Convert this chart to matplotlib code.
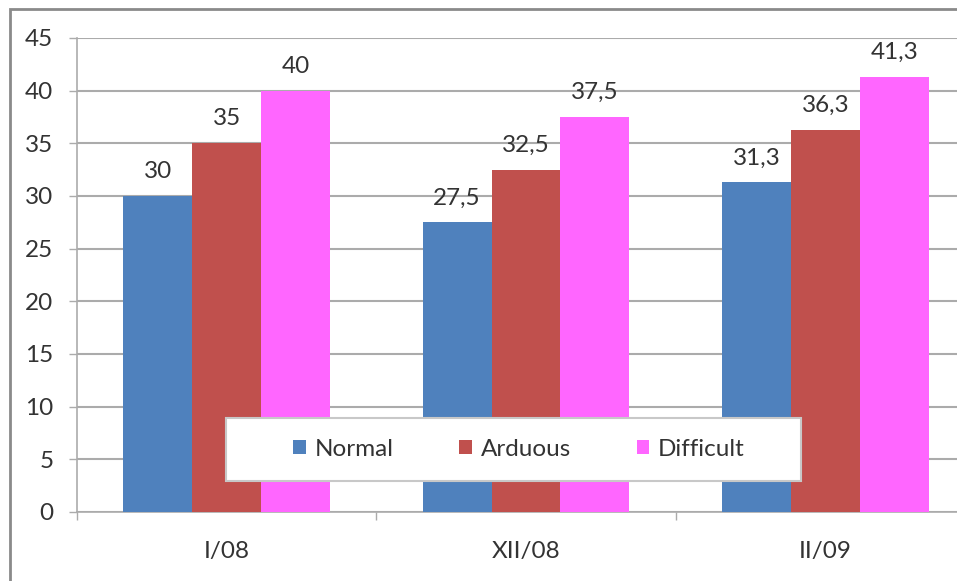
import numpy as np
import matplotlib.pyplot as plt
from matplotlib.patches import Rectangle

periods = ['I/08', 'XII/08', 'II/09']
series = ['Normal', 'Arduous', 'Difficult']
normal = [30, 27.5, 31.3]
arduous = [35, 32.5, 36.3]
difficult = [40, 37.5, 41.3]
colors = ['#4F81BD', '#C0504D', '#FF66FF']

plt.rcParams['font.family'] = ['Lato', 'DejaVu Sans']
text_color = '#333333'
grid_color = '#ababab'
fs = 17.5

W, H = 957, 581
fig = plt.figure(figsize=(W / 100, H / 100), dpi=100)
fig.patch.set_facecolor('white')

# plot area is wider than the canvas: the right edge is cut off
ax = fig.add_axes([77 / W, 69 / H, 898 / W, 474 / H])

x = np.arange(len(periods))
width = 0.23
for i, (name, vals) in enumerate(zip(series, [normal, arduous, difficult])):
    bars = ax.bar(x + (i - 1) * width, vals, width, color=colors[i], label=name, zorder=3)
    for b, v in zip(bars, vals):
        ax.annotate(f'{v:g}'.replace('.', ','), (b.get_x() + b.get_width() / 2, v),
                    xytext=(0, 10), textcoords='offset points', ha='center', va='bottom',
                    fontsize=fs, color=text_color)

ax.set_xlim(-0.5, 2.5)
ax.set_ylim(0, 45)
ax.set_yticks(range(0, 46, 5))
ax.set_xticks(x)
ax.set_xticklabels(periods)
ax.set_xticks([-0.5, 0.5, 1.5], minor=True)
ax.tick_params(axis='x', which='major', length=0, pad=21, labelsize=fs, labelcolor=text_color)
ax.tick_params(axis='x', which='minor', length=6, width=1, color=grid_color)
ax.tick_params(axis='y', length=6, width=1, color=grid_color, pad=11, labelsize=fs,
               labelcolor=text_color)

ax.yaxis.grid(True, color=grid_color, linewidth=1.5, zorder=0)
ax.set_axisbelow(True)
for s in ['top', 'right']:
    ax.spines[s].set_visible(False)
for s in ['left', 'bottom']:
    ax.spines[s].set_color(grid_color)
    ax.spines[s].set_linewidth(1.2)

# legend box drawn on its own, entries centred inside it
fig.patches.append(Rectangle((226 / W, 100 / H), 575 / W, 63 / H,
                             transform=fig.transFigure, facecolor='white',
                             edgecolor='#c8c8c8', linewidth=1.5, zorder=5))
leg = fig.legend(loc='center', ncol=3, bbox_to_anchor=(519 / W, 131.5 / H),
                 fontsize=fs, frameon=False, columnspacing=2.7,
                 handlelength=0.52, handleheight=0.52, handletextpad=0.36,
                 borderpad=0, borderaxespad=0, labelcolor=text_color)
leg.set_zorder(6)

# outer chart border (left and top visible)
fig.patches.append(Rectangle((9.5 / W, -0.1), 1.2, (H - 9) / H + 0.1,
                             transform=fig.transFigure, fill=False,
                             edgecolor='#8a8a8a', linewidth=2))

fig.savefig('out.png', dpi=100)
